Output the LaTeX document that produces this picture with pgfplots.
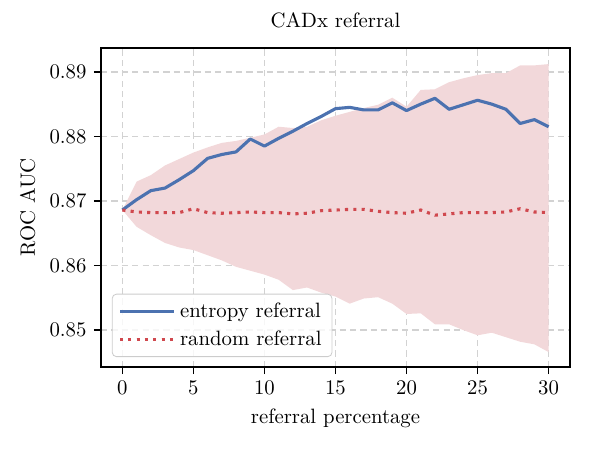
\documentclass[border=0pt]{standalone}
\usepackage{pgfplots}
\pgfplotsset{compat=1.18}
\definecolor{sbblue}{RGB}{76,114,176}
\definecolor{sbred}{RGB}{208,72,78}
\definecolor{bandfill}{RGB}{242,216,218}
\begin{document}
\begin{tikzpicture}
\useasboundingbox (-48.7pt,-40.0pt) rectangle (240.4pt,176.8pt);
\begin{axis}[
  scale only axis,
  width=225.9pt, height=153.7pt,
  xmin=-1.5, xmax=31.5,
  ymin=0.8443, ymax=0.8937,
  xtick={0,5,10,15,20,25,30},
  ytick={0.85,0.86,0.87,0.88,0.89},
  yticklabel style={/pgf/number format/.cd,fixed,precision=2,fixed zerofill},
  scaled y ticks=false,
  tick align=outside,
  tick pos=left,
  major tick length=3.5pt,
  every tick/.style={black, line width=0.8pt},
  axis line style={line width=0.8pt},
  grid=major,
  major grid style={dash pattern=on 3pt off 2pt, gray!35, line width=0.8pt},
  title={CADx referral},
  xlabel={referral percentage},
  ylabel={ROC AUC},
  legend style={at={(0.023,0.031)}, anchor=south west, draw=gray!40, rounded corners=2pt, fill=white, fill opacity=0.8, text opacity=1, font=\normalsize, row sep=1pt},
  legend cell align=left,
  legend image code/.code={\draw[#1] (0cm,0cm) -- (0.75cm,0cm); \path (0cm,0cm) -- (0.92cm,0cm);},
]
\addplot[draw=none, fill=bandfill, forget plot] coordinates {
(0,0.8686) (1,0.8730) (2,0.8740) (3,0.8755) (4,0.8765) (5,0.8775) (6,0.8783) (7,0.8790) (8,0.8793) (9,0.8798) (10,0.8803) (11,0.8815) (12,0.8813) (13,0.8815) (14,0.8825) (15,0.8832) (16,0.8838) (17,0.8844) (18,0.8849) (19,0.8860) (20,0.8846) (21,0.8872) (22,0.8873) (23,0.8884) (24,0.8890) (25,0.8895) (26,0.8898) (27,0.8898) (28,0.8910) (29,0.8910) (30,0.8912)
(30,0.8466) (29,0.8478) (28,0.8482) (27,0.8489) (26,0.8496) (25,0.8492) (24,0.8500) (23,0.8509) (22,0.8509) (21,0.8526) (20,0.8525) (19,0.8541) (18,0.8551) (17,0.8549) (16,0.8541) (15,0.8552) (14,0.8558) (13,0.8566) (12,0.8562) (11,0.8578) (10,0.8586) (9,0.8592) (8,0.8598) (7,0.8608) (6,0.8616) (5,0.8624) (4,0.8628) (3,0.8635) (2,0.8647) (1,0.8660) (0,0.8686)
} -- cycle;
\addplot[sbblue, line width=1.5pt, line join=round] coordinates {
(0,0.8686) (1,0.8702) (2,0.8716) (3,0.8720) (4,0.8733) (5,0.8747) (6,0.8766) (7,0.8772) (8,0.8776) (9,0.8796) (10,0.8785) (11,0.8797) (12,0.8808) (13,0.8820) (14,0.8831) (15,0.8843) (16,0.8845) (17,0.8841) (18,0.8841) (19,0.8852) (20,0.8840) (21,0.8850) (22,0.8859) (23,0.8842) (24,0.8849) (25,0.8856) (26,0.8850) (27,0.8842) (28,0.8820) (29,0.8826) (30,0.8815)
};
\addlegendentry{entropy referral}
\addplot[sbred, line width=1.5pt, dash pattern=on 1.5pt off 2.5pt] coordinates {
(0,0.8686) (1,0.8683) (2,0.8682) (3,0.8682) (4,0.8682) (5,0.8688) (6,0.8682) (7,0.8681) (8,0.8682) (9,0.8683) (10,0.8682) (11,0.8682) (12,0.8680) (13,0.8681) (14,0.8685) (15,0.8686) (16,0.8687) (17,0.8687) (18,0.8684) (19,0.8682) (20,0.8681) (21,0.8686) (22,0.8678) (23,0.8680) (24,0.8682) (25,0.8682) (26,0.8682) (27,0.8683) (28,0.8688) (29,0.8683) (30,0.8682)
};
\addlegendentry{random referral}
\end{axis}
\end{tikzpicture}
\end{document}
